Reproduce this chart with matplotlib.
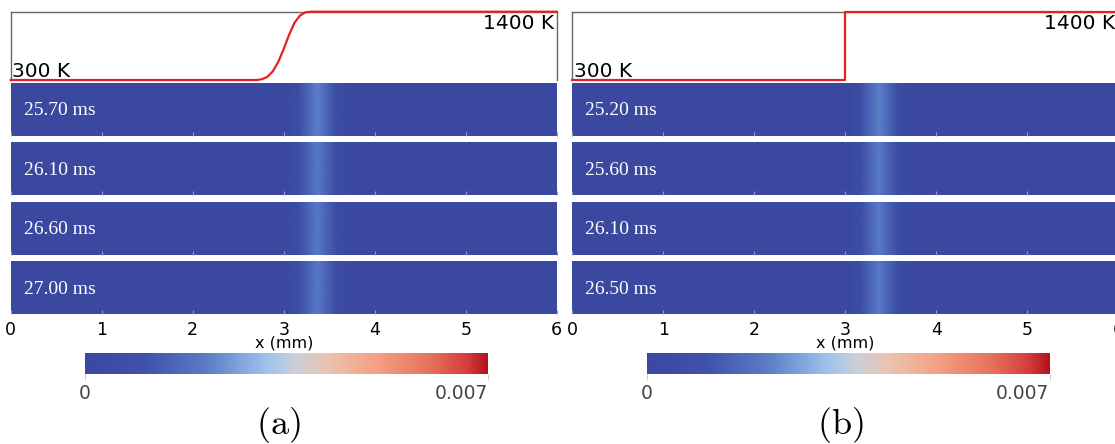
import numpy as np
import matplotlib
matplotlib.use("Agg")
import matplotlib.pyplot as plt
from matplotlib.colors import LinearSegmentedColormap, Normalize
from matplotlib.cm import ScalarMappable

plt.rcParams["font.family"] = "DejaVu Sans"
plt.rcParams["mathtext.fontset"] = "cm"

# temperature profiles (top panels)
temp_x_a = [0.0, 2.70, 2.76, 2.82, 2.88, 2.94, 3.00, 3.06, 3.12, 3.18, 3.24, 3.30, 6.0]
temp_a = [300, 300, 312, 350, 440, 590, 800, 1030, 1225, 1340, 1390, 1400, 1400]
temp_x_b = [0.0, 3.0, 3.0, 6.0]
temp_b = [300, 300, 1400, 1400]

# time stamps of the four strips
times_a = ["25.70 ms", "26.10 ms", "26.60 ms", "27.00 ms"]
times_b = ["25.20 ms", "25.60 ms", "26.10 ms", "26.50 ms"]

# field profile along x (same for every strip), and peak value per strip
field_x = [0.0, 3.04, 3.17, 3.28, 3.37, 3.46, 3.57, 3.70, 6.0]
field_shape = [0.0, 0.0, 0.3, 0.75, 1.0, 0.75, 0.3, 0.0, 0.0]
field_bg = 0.00005
peaks_a = [0.0021, 0.0020, 0.0020, 0.0020]
peaks_b = [0.0021, 0.0020, 0.0020, 0.0020]

vmin, vmax = 0.0, 0.007
cb_ticks = [0.0, 0.007]
cb_labels = ["0", "0.007"]

cm_pos = [0.0, 0.15, 0.30, 0.45, 0.52, 0.60, 0.72, 0.86, 0.95, 1.0]
cm_col = ["#3a48a0", "#3f52ab", "#5a7cc6", "#9dc3ec", "#c9cfdb",
          "#eac4b0", "#f4a184", "#e6705a", "#d33c3c", "#b4121f"]
cmap = LinearSegmentedColormap.from_list("cw", list(zip(cm_pos, cm_col)))
norm = Normalize(vmin, vmax)

W, H = 1115, 444
fig = plt.figure(figsize=(W / 100, H / 100), dpi=100)


def fx(px):
    return px / W


def fy(top, bottom):
    return 1 - bottom / H, (bottom - top) / H


def panel(x0, tx, ty, times, peaks, letter):
    width = 546
    b, h = fy(11.7, 80)
    ax = fig.add_axes([fx(x0), b, fx(width), h])
    ax.plot(tx, ty, color="#e32222", lw=1.6, clip_on=False, zorder=5)
    ax.set_xlim(0, 6)
    ax.set_ylim(300, 1400)
    ax.set_xticks([])
    ax.set_yticks([])
    for s in ["left", "top", "right"]:
        ax.spines[s].set_color("#666666")
        ax.spines[s].set_linewidth(1.0)
    ax.spines["bottom"].set_visible(False)
    ax.text(0.003, 0.05, "300 K", transform=ax.transAxes, fontsize=14.5,
            ha="left", va="baseline")
    ax.text(0.995, 0.74, "1400 K", transform=ax.transAxes, fontsize=14.5,
            ha="right", va="baseline")

    tops = [82.7, 142.2, 201.7, 261.0]
    for k, (t, p) in enumerate(zip(times, peaks)):
        b, h = fy(tops[k], tops[k] + 53.3)
        sa = fig.add_axes([fx(x0), b, fx(width), h])
        vals = [field_bg + p * s for s in field_shape]
        X = np.array([field_x, field_x])
        Y = np.array([[0] * len(field_x), [1] * len(field_x)])
        C = np.array([vals, vals])
        sa.pcolormesh(X, Y, C, shading="gouraud", cmap=cmap, norm=norm)
        sa.set_xlim(0, 6)
        sa.set_ylim(0, 1)
        sa.set_yticks([])
        sa.set_xticks(range(7))
        sa.tick_params(axis="x", direction="in", length=3, color="#8e9acb",
                       width=0.8, labelsize=12.5, pad=5)
        for s in sa.spines.values():
            s.set_visible(False)
        sa.text(0.024, 0.47, t, transform=sa.transAxes, color="white",
                family="Liberation Serif", fontsize=14, va="center", ha="left")
        if k < 3:
            sa.set_xticklabels([])
        else:
            sa.set_xlabel("x (mm)", fontsize=11.5, labelpad=-3)

    cb_left = x0 + 74.3
    b, h = fy(353.3, 374)
    cax = fig.add_axes([fx(cb_left), b, fx(403), h])
    cb = fig.colorbar(ScalarMappable(norm=norm, cmap=cmap), cax=cax,
                      orientation="horizontal")
    cb.outline.set_visible(False)
    cb.set_ticks(cb_ticks)
    cax.set_xticklabels(cb_labels)
    cax.tick_params(length=4, color="#d0d0d0", labelsize=13.5,
                    labelcolor="#444444", pad=3)
    cax.get_xticklabels()[-1].set_ha("right")

    fig.text(fx(x0 + 268), 1 - 425 / H, r"$\mathrm{(" + letter + ")}$",
             fontsize=26, ha="center", va="center")


panel(10.7, temp_x_a, temp_a, times_a, peaks_a, "a")
panel(572.3, temp_x_b, temp_b, times_b, peaks_b, "b")

fig.savefig("out.png", dpi=100)
